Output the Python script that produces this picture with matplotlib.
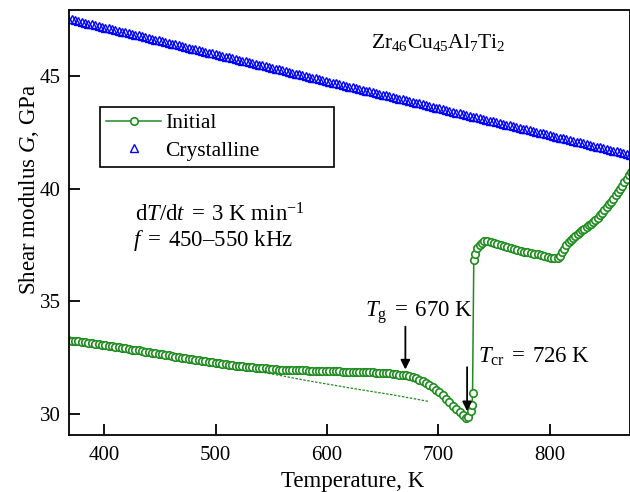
import numpy as np
import matplotlib
matplotlib.use("Agg")
from matplotlib import pyplot as plt

plt.rcParams['font.family'] = ['Liberation Serif', 'DejaVu Serif']
plt.rcParams['mathtext.fontset'] = 'custom'
plt.rcParams['mathtext.rm'] = 'Liberation Serif'
plt.rcParams['mathtext.it'] = 'Liberation Serif:italic'
plt.rcParams['mathtext.bf'] = 'Liberation Serif:bold'

# crystalline sample, every 3 K from 368 K
t_cryst = np.arange(368, 873, 3)
g_cryst = [47.55, 47.51, 47.48, 47.44, 47.41, 47.37, 47.33, 47.30, 47.26, 47.23,
           47.19, 47.15, 47.12, 47.08, 47.05, 47.01, 46.97, 46.94, 46.90, 46.87,
           46.83, 46.80, 46.76, 46.72, 46.69, 46.65, 46.62, 46.58, 46.54, 46.51,
           46.47, 46.44, 46.40, 46.36, 46.33, 46.29, 46.26, 46.22, 46.18, 46.15,
           46.11, 46.08, 46.04, 46.01, 45.97, 45.93, 45.90, 45.86, 45.83, 45.79,
           45.75, 45.72, 45.68, 45.65, 45.61, 45.57, 45.54, 45.50, 45.47, 45.43,
           45.39, 45.36, 45.32, 45.29, 45.25, 45.21, 45.18, 45.14, 45.11, 45.07,
           45.03, 45.00, 44.96, 44.93, 44.89, 44.86, 44.82, 44.78, 44.75, 44.71,
           44.68, 44.64, 44.60, 44.57, 44.53, 44.50, 44.46, 44.42, 44.39, 44.35,
           44.32, 44.28, 44.24, 44.21, 44.17, 44.14, 44.10, 44.06, 44.03, 43.99,
           43.96, 43.92, 43.89, 43.85, 43.81, 43.78, 43.74, 43.71, 43.67, 43.63,
           43.60, 43.56, 43.53, 43.49, 43.45, 43.42, 43.38, 43.35, 43.31, 43.27,
           43.24, 43.20, 43.17, 43.13, 43.09, 43.06, 43.02, 42.99, 42.95, 42.91,
           42.88, 42.84, 42.81, 42.77, 42.74, 42.70, 42.66, 42.63, 42.59, 42.56,
           42.52, 42.48, 42.45, 42.41, 42.38, 42.34, 42.30, 42.27, 42.23, 42.20,
           42.16, 42.12, 42.09, 42.05, 42.02, 41.98, 41.94, 41.91, 41.87, 41.84,
           41.80, 41.76, 41.73, 41.69, 41.66, 41.62, 41.58, 41.55, 41.51]

# initial (as-cast) sample: glassy part every 3 K up to 725 K
t_glassy = np.arange(368, 726, 3)
g_glassy = [33.28, 33.26, 33.24, 33.22, 33.20, 33.18, 33.16, 33.14, 33.12, 33.10,
            33.08, 33.05, 33.03, 33.01, 32.98, 32.96, 32.94, 32.91, 32.89, 32.86,
            32.84, 32.82, 32.79, 32.77, 32.74, 32.72, 32.69, 32.67, 32.65, 32.62,
            32.60, 32.57, 32.55, 32.52, 32.50, 32.48, 32.45, 32.43, 32.40, 32.38,
            32.36, 32.33, 32.31, 32.29, 32.27, 32.25, 32.23, 32.21, 32.19, 32.17,
            32.15, 32.13, 32.12, 32.10, 32.08, 32.07, 32.05, 32.04, 32.03, 32.02,
            32.00, 31.99, 31.98, 31.97, 31.96, 31.96, 31.95, 31.95, 31.94, 31.94,
            31.93, 31.93, 31.92, 31.92, 31.91, 31.91, 31.90, 31.90, 31.90, 31.89,
            31.89, 31.89, 31.88, 31.88, 31.88, 31.87, 31.87, 31.87, 31.86, 31.86,
            31.85, 31.85, 31.84, 31.83, 31.82, 31.81, 31.80, 31.78, 31.77, 31.75,
            31.73, 31.71, 31.67, 31.63, 31.58, 31.52, 31.45, 31.38, 31.29, 31.19,
            31.08, 30.96, 30.82, 30.67, 30.52, 30.37, 30.22, 30.07, 29.94, 29.84]
# crystallization jump and crystallized part
t_cryst_part = [727, 729.4, 730.3, 730.7, 731.8, 733, 735, 737, 739, 741, 744, 747,
                750, 753, 756, 759, 762, 765, 768, 771, 774, 777, 780, 783, 786,
                789, 792, 795, 798, 801, 804, 807, 809, 811, 813, 815, 817, 819,
                821, 823, 825, 827, 829, 831, 833, 835, 837, 839, 841, 843, 845,
                847, 849, 851, 853, 855, 857, 859, 861, 863, 865, 867, 869, 871, 873]
g_cryst_part = [29.88, 30.13, 30.40, 30.95, 36.84, 37.10, 37.35, 37.50, 37.60, 37.66,
                37.67, 37.64, 37.60, 37.56, 37.52, 37.46, 37.41, 37.37, 37.33, 37.29,
                37.25, 37.21, 37.18, 37.15, 37.12, 37.09, 37.05, 37.01, 36.97, 36.93,
                36.91, 36.94, 37.03, 37.17, 37.33, 37.50, 37.62, 37.72, 37.82, 37.91,
                38.00, 38.08, 38.15, 38.22, 38.30, 38.38, 38.45, 38.52, 38.62, 38.72,
                38.82, 38.93, 39.05, 39.17, 39.30, 39.43, 39.56, 39.70, 39.84, 39.97,
                40.12, 40.28, 40.45, 40.60, 40.72]
t_init = list(t_glassy) + t_cryst_part
g_init = g_glassy + g_cryst_part

# extrapolated glass line (thin dotted)
t_glass = [480, 500, 520, 540, 560, 580, 600, 620, 640, 660, 680, 692]
g_glass = [32.43, 32.27, 32.07, 31.87, 31.69, 31.50, 31.33, 31.16, 31.00, 30.84, 30.66, 30.55]

green = '#1e8c1e'

fig = plt.figure(figsize=(6.3, 4.92), dpi=100)
ax = fig.add_axes([0.1095, 0.116, 0.8905, 0.8637])

ax.plot(t_glass, g_glass, color=green, lw=0.9, ls=(0, (2, 1.2)))
ax.plot(t_cryst, g_cryst, ls='none', marker='^', ms=5.2, mfc='none', mec='blue',
        mew=1.0, label='Crystalline')
ax.plot(t_init, g_init, color=green, lw=1.1, marker='o', ms=5.4, mfc='white',
        mec=green, mew=1.2, label='Initial')

ax.set_xlim(368.5, 872)
ax.set_ylim(29.07, 47.93)
ax.set_xticks([400, 500, 600, 700, 800])
ax.set_yticks([30, 35, 40, 45])
ax.tick_params(direction='in', length=8, width=1.3, labelsize=15, pad=6)
ax.tick_params(axis='x', pad=8)
for s in ax.spines.values():
    s.set_linewidth(1.3)

ax.set_xlabel('Temperature, K', fontsize=16.5)
ax.set_ylabel('Shear modulus $G$, GPa', fontsize=16.5)
ax.xaxis.set_label_coords(0.506, -0.084)
ax.yaxis.set_label_coords(-0.05, 0.579)

h, l = ax.get_legend_handles_labels()
leg = ax.legend(h[::-1], l[::-1], loc='upper left',
                bbox_to_anchor=(0.055, 0.6, 0.417, 0.172), mode='expand',
                borderaxespad=0, fontsize=15.5, handlelength=2.55, handletextpad=0.2,
                labelspacing=0.35, borderpad=0.3, fancybox=False, framealpha=1,
                edgecolor='black')
leg.get_frame().set_linewidth(1.2)

ax.text(700, 46.5, 'Zr$_{46}$Cu$_{45}$Al$_{7}$Ti$_{2}$', fontsize=15.5,
        ha='center', va='center')
ax.text(428, 38.85, r'$\mathrm{d}T/\mathrm{d}t\;=\;3\ \mathrm{K\ min}^{-1}$',
        fontsize=16.5, va='center')
ax.text(426, 37.7, r'$f\;=\;450$–$550\ \mathrm{kHz}$', fontsize=16.5, va='center')

ax.annotate('', xy=(670.4, 31.85), xytext=(670.4, 34.0),
            arrowprops=dict(arrowstyle='-|>', color='black', lw=1.3, mutation_scale=14))
ax.text(634, 34.5, r'$T_{\mathrm{g}}\;=\;670\ \mathrm{K}$', fontsize=16.5, va='center')
ax.annotate('', xy=(725.8, 30.0), xytext=(725.8, 32.2),
            arrowprops=dict(arrowstyle='-|>', color='black', lw=1.3, mutation_scale=14))
ax.text(736, 32.55, r'$T_{\mathrm{cr}}\;=\;726\ \mathrm{K}$', fontsize=16.5, va='center')

fig.savefig('out.png', dpi=100)
